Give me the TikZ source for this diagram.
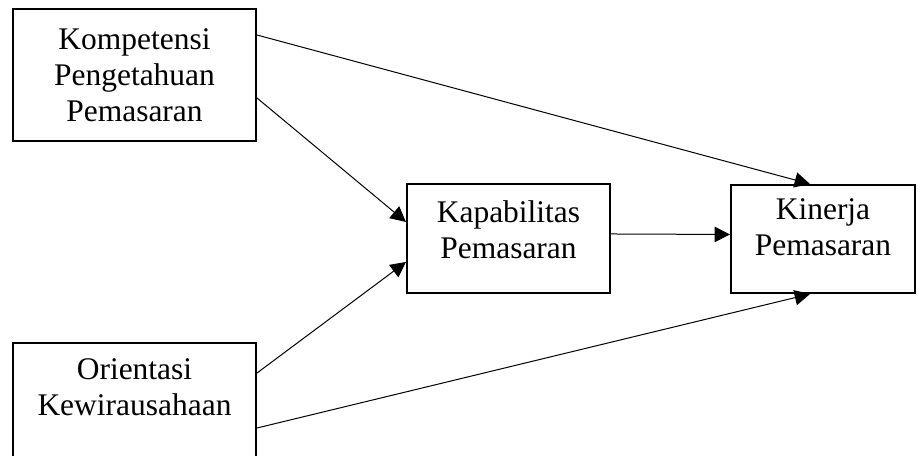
\documentclass[tikz,border=0pt]{standalone}
\usepackage{fontspec}
\setmainfont{Liberation Serif}
\usetikzlibrary{arrows.meta}

\tikzset{
  box/.style={draw, line width=1.5pt, align=center, inner sep=0pt,
    font=\fontsize{23.6}{27}\selectfont},
  link/.style={line width=0.75pt, -{Triangle[length=11.5pt,width=11.5pt]}}
}

\begin{document}
\begin{tikzpicture}[x=0.75pt,y=-0.75pt]
    \useasboundingbox (0,0) rectangle (918,455);

    % Boxes
    \node[box, minimum width=182.25pt, minimum height=99pt] (komp) at (134.5,75)
        {Kompetensi\\Pengetahuan\\Pemasaran};
    \node[box, minimum width=182.25pt, minimum height=99pt, text depth=33pt] (ori) at (134.5,409)
        {Orientasi\\Kewirausahaan};
    \node[box, minimum width=152.25pt, minimum height=81.75pt, text depth=14pt] (kap) at (508.5,238.5)
        {Kapabilitas\\Pemasaran};
    \node[box, minimum width=138pt, minimum height=81pt, text depth=18pt] (kin) at (823,239)
        {Kinerja\\Pemasaran};

    % Arrows
    \draw[link] ([yshift=30pt]komp.east) -- ([xshift=-9.75pt]kin.north);
    \draw[link] ([yshift=-17.25pt]komp.east) -- ([yshift=12.4pt]kap.west);
    \draw[link] ([yshift=27pt]ori.east) -- ([yshift=-17.6pt]kap.west);
    \draw[link] ([yshift=-14.25pt]ori.east) -- ([xshift=-9.75pt]kin.south);
    \draw[link] ([yshift=3.4pt]kap.east) -- ([yshift=3.4pt]kin.west);
\end{tikzpicture}
\end{document}
